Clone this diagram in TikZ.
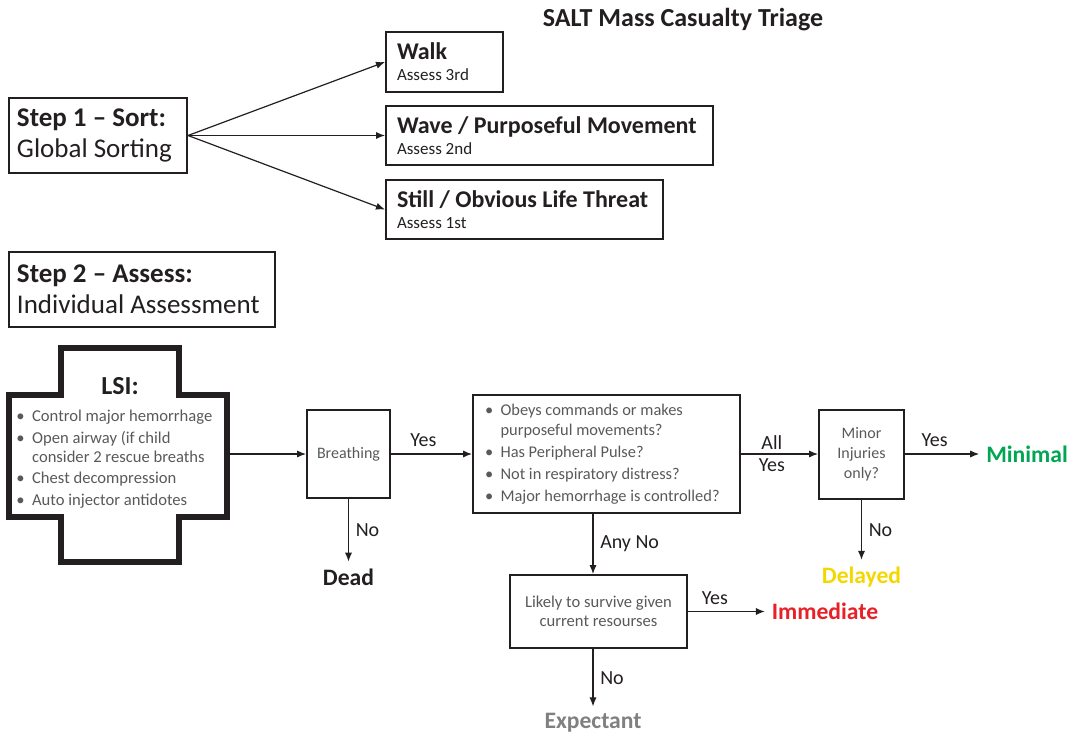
\documentclass[tikz,border=0pt]{standalone}
\usepackage{fontspec}
\setmainfont{Carlito}
\usepackage{xcolor}
\usetikzlibrary{arrows.meta}

\definecolor{inkblack}{RGB}{35,31,32}
\definecolor{inkgray}{RGB}{88,89,91}
\definecolor{minimalgreen}{RGB}{0,166,81}
\definecolor{delayedyellow}{RGB}{245,215,0}
\definecolor{immediatered}{RGB}{232,32,40}
\definecolor{expectantgray}{RGB}{128,128,128}

\newcommand{\bul}{\textbullet\hspace{0.45em}}
\newcommand{\bulgap}{\phantom{\textbullet}\hspace{0.45em}}

\begin{document}
\begin{tikzpicture}[x=0.5pt, y=-0.5pt, >={Latex[length=4.5pt,width=3.6pt]},
    flow/.style={->, line width=0.6pt, draw=inkblack},
    box/.style={draw=inkblack, line width=1pt, inner sep=0pt},
    leftbox/.style={box, anchor=west, align=flush left, text=inkblack},
    midbox/.style={box, align=center, text=inkgray, font=\fontsize{8}{10}\selectfont},
    lbl/.style={text=inkblack, font=\fontsize{10}{11}\selectfont},
    outcome/.style={font=\bfseries\fontsize{11.8}{12}\selectfont}
  ]
  \useasboundingbox (0,0) rectangle (1074,738);

  \node[text=inkblack, font=\bfseries\fontsize{13}{14}\selectfont] (title) at (683,20) {SALT Mass Casualty Triage};

  % step 1
  \node[leftbox, inner xsep=4pt, text width=81pt, minimum height=37.5pt,
        font=\fontsize{13.5}{15.5}\selectfont] (sort) at (8,135.5)
        {\textbf{Step 1 – Sort:}\\Global Sorting};
  \node[leftbox, inner xsep=5.5pt, text width=47.5pt, minimum height=30pt,
        font=\fontsize{12}{10.5}\selectfont] (walk) at (385,62)
        {\textbf{Walk}\\{\fontsize{8.5}{10}\selectfont Assess 3rd}};
  \node[leftbox, inner xsep=5.5pt, text width=152.5pt, minimum height=29.5pt,
        font=\fontsize{12}{10.5}\selectfont] (wave) at (385,135.5)
        {\textbf{Wave / Purposeful Movement}\\{\fontsize{8.5}{10}\selectfont Assess 2nd}};
  \node[leftbox, inner xsep=5.5pt, text width=127.5pt, minimum height=29.5pt,
        font=\fontsize{12}{10.5}\selectfont] (still) at (385,209.5)
        {\textbf{Still / Obvious Life Threat}\\{\fontsize{8.5}{10}\selectfont Assess 1st}};

  \draw[flow] (sort.east) -- (walk.west);
  \draw[flow] (sort.east) -- (wave.west);
  \draw[flow] (sort.east) -- (still.west);

  % step 2
  \node[leftbox, inner xsep=4pt, text width=125pt, minimum height=37.5pt,
        font=\fontsize{13.5}{15.5}\selectfont] (assess) at (8,289.5)
        {\textbf{Step 2 – Assess:}\\Individual Assessment};

  % LSI cross
  \draw[line width=3pt, draw=inkblack] (61,348) -- (179,348) -- (179,395) -- (227,395)
    -- (227,517) -- (179,517) -- (179,562) -- (61,562) -- (61,517) -- (9,517)
    -- (9,395) -- (61,395) -- cycle;
  \coordinate (lsiout) at (230,454);
  \node[text=inkblack, font=\bfseries\fontsize{13}{14}\selectfont] (lsi) at (120,386) {LSI:};
  \node[anchor=north west, inner sep=0pt, align=left, text=inkgray,
        font=\fontsize{8.3}{9.5}\selectfont] (lsilist) at (16,410)
        {\bul Control major hemorrhage\\[1.2pt]
         \bul Open airway (if child\\
         \bulgap consider 2 rescue breaths\\[1.2pt]
         \bul Chest decompression\\[1.2pt]
         \bul Auto injector antidotes};

  \node[midbox, minimum width=41.5pt, minimum height=44pt] (breath) at (348.5,454) {Breathing};
  \node[leftbox, inner xsep=6pt, text width=121.5pt, minimum height=59pt, text=inkgray,
        font=\fontsize{8.2}{10}\selectfont] (obeys) at (472,454)
        {\bul Obeys commands or makes\\
         \bulgap purposeful movements?\\[1pt]
         \bul Has Peripheral Pulse?\\[1pt]
         \bul Not in respiratory distress?\\[1pt]
         \bul Major hemorrhage is controlled?};
  \node[midbox, minimum width=42.5pt, minimum height=44.5pt] (minor) at (861.5,454) {Minor\\Injuries\\only?};
  \node[midbox, minimum width=88.5pt, minimum height=36.5pt, font=\fontsize{8.3}{9.5}\selectfont] (likely) at (598.5,611.5)
        {Likely to survive given\\current resourses};

  % outcomes
  \node[outcome, text=inkblack] (dead) at (348.5,577) {Dead};
  \node[outcome, text=minimalgreen] (minimal) at (1027,454) {Minimal};
  \node[outcome, text=delayedyellow] (delayed) at (861.5,577) {Delayed};
  \node[outcome, text=immediatered] (immediate) at (825,611.5) {Immediate};
  \node[outcome, text=expectantgray] (expectant) at (593,723) {Expectant};

  \draw[flow] (lsiout) -- (breath);
  \draw[flow] (breath) -- node[lbl, above, pos=0.4] {Yes} (obeys);
  \draw[flow] (breath) -- node[lbl, right] {No} (dead);
  \draw[flow] (obeys) -- node[lbl, align=center, pos=0.4] {All\\Yes} (minor);
  \draw[flow] (minor) -- node[lbl, above, pos=0.4] {Yes} (minimal);
  \draw[flow] (minor) -- node[lbl, right] {No} (delayed);
  \draw[flow] (obeys.south -| expectant) -- node[lbl, right] {Any No} (likely.north -| expectant);
  \draw[flow] (likely) -- node[lbl, above, pos=0.35] {Yes} (immediate);
  \draw[flow] (likely.south -| expectant) -- node[lbl, right] {No} (expectant);
\end{tikzpicture}
\end{document}
